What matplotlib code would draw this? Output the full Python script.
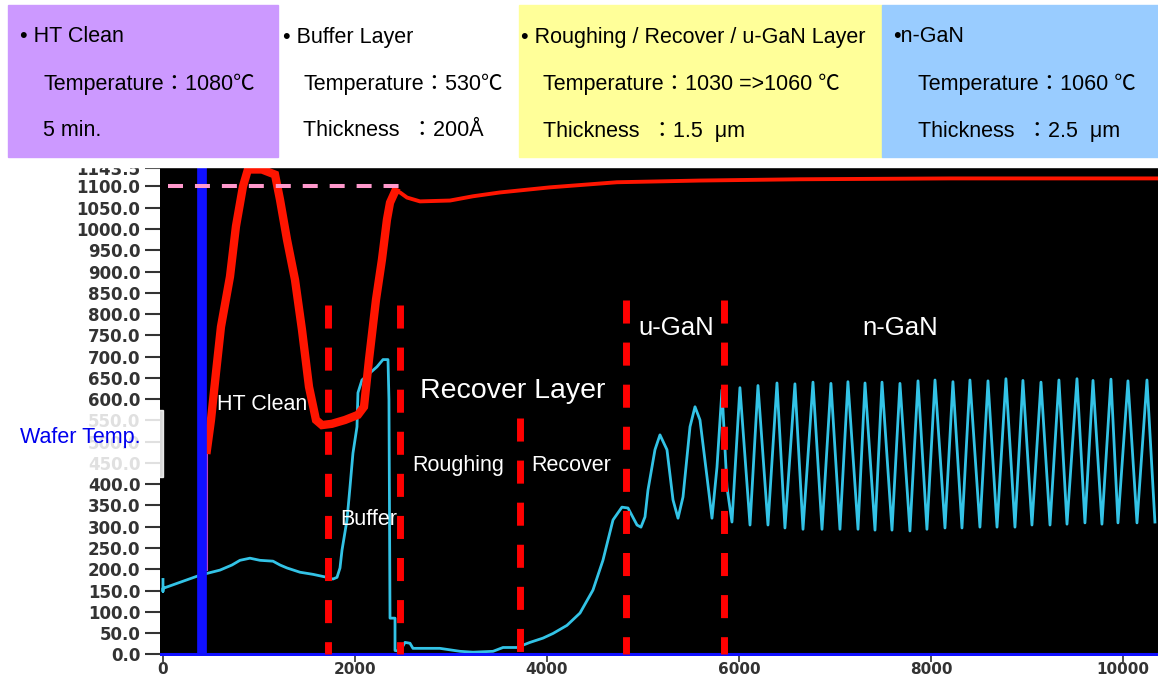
import matplotlib.pyplot as plt
from matplotlib.patches import Rectangle

plt.rcParams['lines.scale_dashes'] = False

# ---- data ----
# reflectance trace (cyan): early growth part
cyan_x = [0, 0, 0, 385, 594, 719, 802, 906, 1010, 1146, 1219, 1292, 1427, 1563, 1708, 1771,
          1813, 1844, 1865, 1917, 1948, 1979, 2021, 2031, 2073, 2229, 2292, 2344, 2354, 2365,
          2417, 2417, 2469, 2521, 2573, 2604, 2885, 3094, 3229, 3438, 3542, 3688, 3823, 3958,
          4063, 4208, 4344, 4479, 4583, 4688, 4781, 4844, 4938, 4979, 5021, 5052, 5125, 5177,
          5250, 5313, 5365, 5417, 5490, 5542, 5594, 5667, 5719, 5771, 5823, 5875, 5927]
cyan_y = [176, 148, 155, 186, 198, 210, 221, 226, 221, 219, 210, 203, 193, 188, 181, 177,
          181, 203, 245, 316, 393, 473, 535, 615, 645, 676, 693, 693, 598, 85,
          85, 9, 7, 28, 26, 14, 14, 7, 5, 7, 16, 16, 28, 38,
          49, 68, 97, 151, 221, 316, 346, 344, 304, 299, 323, 386, 481, 516,
          481, 363, 320, 370, 535, 582, 551, 417, 320, 440, 622, 393, 311]

# n-GaN oscillations: peaks and troughs
peak_x = [6010, 6198, 6396, 6583, 6771, 6958, 7135, 7313, 7490, 7677, 7865, 8042,
          8229, 8406, 8594, 8781, 8958, 9146, 9333, 9521, 9688, 9875, 10052, 10250]
peak_y = [627, 632, 638, 636, 640, 637, 641, 638, 640, 637, 643, 645,
          641, 645, 643, 648, 644, 640, 645, 648, 644, 647, 643, 645]
trough_x = [6115, 6302, 6479, 6667, 6865, 7052, 7240, 7417, 7594, 7781, 7958, 8146,
            8323, 8510, 8688, 8875, 9052, 9240, 9417, 9604, 9781, 9948, 10146, 10333]
trough_y = [304, 304, 297, 294, 294, 294, 294, 292, 292, 290, 294, 297,
            297, 299, 299, 299, 304, 304, 306, 309, 306, 309, 309, 311]

# thermocouple temperature (red)
red_x = [458, 458, 500, 552, 604, 698, 760, 833, 885, 1031, 1167, 1219, 1292, 1375, 1448,
         1521, 1594, 1656, 1760, 1896, 2031, 2094, 2146, 2219, 2281, 2333, 2365, 2417,
         2469, 2542, 2677, 2990, 3229, 3510, 4031, 4729, 5594, 6635, 8198, 10365]
red_y = [198, 481, 551, 662, 770, 888, 1006, 1100, 1140, 1140, 1128, 1069, 975, 881, 763,
         629, 551, 539, 542, 551, 563, 582, 693, 834, 928, 1022, 1062, 1088,
         1086, 1074, 1065, 1067, 1077, 1086, 1098, 1110, 1114, 1117, 1119, 1119]

ref_x = [50, 2490]       # 1100 setpoint line
ref_level = 1100
wafer_x = 405            # wafer temp. marker
stage_x = [1719, 2469, 3719, 4823, 5844]
stage_top = [822, 822, 556, 834, 834]

yticks = [v * 50 for v in range(23)] + [1143.5]
xticks = [0, 2000, 4000, 6000, 8000, 10000]

# interleave oscillation points
osc_x, osc_y = [], []
for px_, py_, tx_, ty_ in zip(peak_x, peak_y, trough_x, trough_y):
    osc_x += [px_, tx_]
    osc_y += [py_, ty_]

# ---- figure ----
W, H = 1158, 677
fig = plt.figure(figsize=(W / 100, H / 100), dpi=100)

def fx(px):
    return px / W

def fy(py):
    return 1 - py / H

ax = fig.add_axes([fx(160), fy(656), 998 / W, 488 / H])
ax.set_facecolor('black')
ax.set_xlim(-31, 10365)
ax.set_ylim(-4, 1143.5)

ax.plot(cyan_x + osc_x, cyan_y + osc_y, color='#33c3e6', lw=2.0, zorder=2)
ax.plot(red_x[:2], red_y[:2], color='#c040c0', lw=1.5, zorder=3)
ax.plot(red_x[1:28], red_y[1:28], color='#ff1500', lw=6, zorder=3, solid_joinstyle='miter')
ax.plot(red_x[27:], red_y[27:], color='#ff1500', lw=2.8, zorder=3)
ax.axvline(wafer_x, color='#1010ff', lw=7, zorder=4)
ax.axhline(0, color='#1010ff', lw=2.2, zorder=4)
for sx, st in zip(stage_x, stage_top):
    ax.plot([sx, sx], [st, 0], color='#ff0000', lw=5, dashes=(16.6, 13.7), zorder=5)
ax.plot(ref_x, [ref_level, ref_level], color='#ff99cc', lw=2.9, dashes=(10.8, 8.6), zorder=6)

for s in ax.spines.values():
    s.set_visible(False)

ax.set_yticks(yticks)
ax.set_yticklabels(['%.1f' % v for v in yticks])
ax.set_xticks(xticks)
ax.tick_params(axis='y', length=11, width=1.5, color='#333333', pad=3,
               labelsize=12, labelcolor='#333333')
ax.tick_params(axis='x', length=4, width=1.2, color='#333333', pad=0.5,
               labelsize=11, labelcolor='#333333')
for lab in ax.get_xticklabels() + ax.get_yticklabels():
    lab.set_fontweight('bold')

lab_font = ['Liberation Sans', 'DejaVu Sans']
ax.text(563, 587, 'HT Clean', color='white', fontsize=15.5, va='center', family=lab_font, zorder=8)
ax.text(1844, 318, 'Buffer', color='white', fontsize=15.5, va='center', family=lab_font, zorder=8)
ax.text(2677, 620, 'Recover Layer', color='white', fontsize=20.5, va='center', family=lab_font, zorder=8)
ax.text(2594, 443, 'Roughing', color='white', fontsize=15.5, va='center', family=lab_font, zorder=8)
ax.text(3833, 443, 'Recover', color='white', fontsize=15.5, va='center', family=lab_font, zorder=8)
ax.text(4948, 768, 'u-GaN', color='white', fontsize=18.5, va='center', family=lab_font, zorder=8)
ax.text(7281, 768, 'n-GaN', color='white', fontsize=18.5, va='center', family=lab_font, zorder=8)

# white band at top (cuts the 1143.5 label) and the coloured info boxes
fig.add_artist(Rectangle((0, fy(167)), 1, 1 - fy(167), transform=fig.transFigure,
                         color='white', zorder=5))
boxes = [(8, 278, '#cc99ff'), (519, 882, '#ffff99'), (882, 1158, '#99ccff')]
for x0, x1, c in boxes:
    fig.add_artist(Rectangle((fx(x0), fy(157)), fx(x1) - fx(x0), fy(5) - fy(157),
                             transform=fig.transFigure, color=c, zorder=6))

box_font = ['Liberation Sans', 'Noto Sans CJK JP', 'DejaVu Sans']
info = [
    (20, 37, '• HT Clean'), (43, 84, 'Temperature：1080℃'), (43, 131, '5 min.'),
    (283, 37, '• Buffer Layer'), (303, 84, 'Temperature：530℃'), (303, 131, 'Thickness  ：200Å'),
    (521, 37, '• Roughing / Recover / u-GaN Layer'), (543, 84, 'Temperature：1030 =>1060 ℃'),
    (543, 131, 'Thickness  ：1.5  μm'),
    (893, 37, '•n-GaN'), (918, 84, 'Temperature：1060 ℃'), (918, 131, 'Thickness  ：2.5  μm'),
]
for x, y, t in info:
    fig.text(fx(x), fy(y), t, fontsize=15.5, va='center', ha='left', family=box_font,
             color='black', zorder=7)

# Wafer Temp. legend box
fig.add_artist(Rectangle((fx(8), fy(477)), fx(163) - fx(8), fy(410) - fy(477),
                         transform=fig.transFigure, color='white', alpha=0.85, zorder=6))
fig.text(fx(20), fy(438), 'Wafer Temp.', color='#0000ee', fontsize=15.5, va='center',
         family=lab_font, zorder=7)

fig.savefig('out.png', dpi=100)
